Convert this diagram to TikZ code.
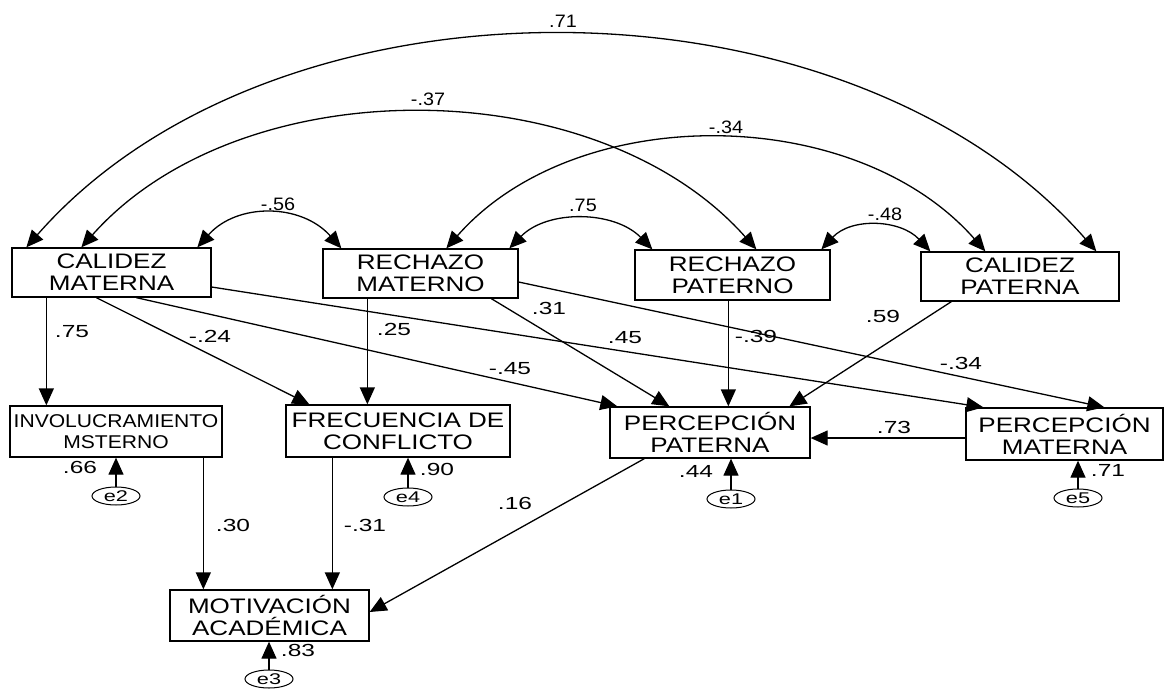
\documentclass[tikz,border=0pt]{standalone}
\usepackage{fontspec}
\setmainfont{Liberation Sans}
\newfontfamily\boxfont{Liberation Sans}[FakeStretch=1.24]
\newfontfamily\invfont{Liberation Sans}[FakeStretch=1.14]
\newfontfamily\lblfont{Liberation Sans}[FakeStretch=1.4]
\newfontfamily\topfont{Liberation Sans}[FakeStretch=1.1]
\usetikzlibrary{arrows.meta,calc,shapes.geometric}
\begin{document}
\begin{tikzpicture}[x=1pt,y=-1pt,
  box/.style={draw, line width=1.3pt, inner sep=0pt, align=center,
    font=\boxfont\fontsize{21}{22}\selectfont},
  invbox/.style={box, font=\invfont\fontsize{18.5}{20.5}\selectfont},
  lbl/.style={inner sep=0pt, font=\lblfont\fontsize{17.5}{18}\selectfont},
  toplbl/.style={inner sep=0pt, font=\topfont\fontsize{18}{18}\selectfont},
  err/.style={draw, ellipse, line width=1pt, minimum width=48pt, minimum height=18pt,
    inner sep=0pt, font=\lblfont\fontsize{15.5}{15}\selectfont},
  arr/.style={line width=1.3pt, -{Triangle[length=17pt,width=15pt]}},
  biarr/.style={line width=1.3pt, {Triangle[length=17pt,width=15pt]}-{Triangle[length=17pt,width=15pt]}}
]
\useasboundingbox (0,0) rectangle (1164,688);
\fill[white] (0,0) rectangle (1164,688);

% boxes
\node[box, minimum width=199pt, minimum height=49pt] (cm) at (111.5,272.5) {CALIDEZ\\MATERNA};
\node[box, minimum width=195pt, minimum height=49pt] (rm) at (420.5,273.5) {RECHAZO\\MATERNO};
\node[box, minimum width=195pt, minimum height=50pt] (rp) at (732.5,275) {RECHAZO\\PATERNO};
\node[box, minimum width=198pt, minimum height=49pt] (cp) at (1020,276.5) {CALIDEZ\\PATERNA};
\node[invbox, minimum width=212pt, minimum height=51pt] (inv) at (116,431.5) {INVOLUCRAMIENTO\\MSTERNO};
\node[box, minimum width=224pt, minimum height=52pt] (frec) at (398,431) {FRECUENCIA DE\\CONFLICTO};
\node[box, minimum width=200pt, minimum height=51pt] (pp) at (710,432.5) {PERCEPCIÓN\\PATERNA};
\node[box, minimum width=197pt, minimum height=52pt] (pm) at (1064.5,434) {PERCEPCIÓN\\MATERNA};
\node[box, minimum width=199pt, minimum height=51pt] (mot) at (269.5,615.5) {MOTIVACIÓN\\ACADÉMICA};

% error terms
\node[err] (e2) at (116,496) {e2};
\node[err] (e4) at (408,497) {e4};
\node[err] (e1) at (731,499) {e1};
\node[err] (e5) at (1078,498) {e5};
\node[err] (e3) at (269,679) {e3};

% arc end points
\coordinate (a71s) at ([xshift=15pt]cm.north west);
\coordinate (a71e) at ([xshift=176pt]cp.north west);
\coordinate (a37s) at ([xshift=70pt]cm.north west);
\coordinate (a37e) at ([xshift=122pt]rp.north west);
\coordinate (a34s) at ([xshift=124pt]rm.north west);
\coordinate (a34e) at ([xshift=65pt]cp.north west);
\coordinate (a56s) at ([xshift=186pt]cm.north west);
\coordinate (a56e) at ([xshift=19pt]rm.north west);
\coordinate (a75s) at ([xshift=187pt]rm.north west);
\coordinate (a75e) at ([xshift=18pt]rp.north west);
\coordinate (a48s) at ([xshift=187pt]rp.north west);
\coordinate (a48e) at ([xshift=10pt]cp.north west);

% covariance arcs
\draw[biarr] (a71s) .. controls ($(a71s)+(250,-285)$) and ($(a71e)+(-250,-285)$) .. (a71e);
\draw[biarr] (a37s) .. controls ($(a37s)+(160,-180)$) and ($(a37e)+(-160,-180)$) .. (a37e);
\draw[biarr] (a34s) .. controls ($(a34s)+(130,-148)$) and ($(a34e)+(-130,-148)$) .. (a34e);
\draw[biarr] (a56s) .. controls ($(a56s)+(40,-45)$) and ($(a56e)+(-40,-45)$) .. (a56e);
\draw[biarr] (a75s) .. controls ($(a75s)+(38,-39)$) and ($(a75e)+(-38,-39)$) .. (a75e);
\draw[biarr] (a48s) .. controls ($(a48s)+(30,-32)$) and ($(a48e)+(-30,-32)$) .. (a48e);

% paths
\draw[arr] ([xshift=35pt]cm.south west) -- ([xshift=37pt]inv.north west);
\draw[arr] ([xshift=85pt]cm.south west) -- ([xshift=24pt]frec.north west);
\draw[arr] ([xshift=125pt]cm.south west) -- ([xshift=8pt]pp.north west);
\draw[arr] ([yshift=-14.5pt]cm.east) -- ([xshift=18pt]pm.north west);
\draw[arr] ([xshift=45pt]rm.south west) -- ([xshift=82pt]frec.north west);
\draw[arr] ([xshift=169pt]rm.south west) -- ([xshift=60pt]pp.north west);
\draw[arr] ([yshift=-8.5pt]rm.east) -- ([xshift=139pt]pm.north west);
\draw[arr] ([xshift=94pt]rp.south west) -- ([xshift=119pt]pp.north west);
\draw[arr] ([xshift=31pt]cp.south west) -- ([xshift=180pt]pp.north west);
\draw[arr] ([yshift=-4pt]pm.west) -- ([yshift=-5.5pt]pp.east);
\draw[arr] ([xshift=194pt]inv.south west) -- ([xshift=34pt]mot.north west);
\draw[arr] ([xshift=47pt]frec.south west) -- ([xshift=163pt]mot.north west);
\draw[arr] ([xshift=35pt]pp.south west) -- ([yshift=3.5pt]mot.east);
\draw[arr] (e2.north) -- (inv.south -| e2.north);
\draw[arr] (e4.north) -- (frec.south -| e4.north);
\draw[arr] (e1.north) -- (pp.south -| e1.north);
\draw[arr] (e5.north) -- (pm.south -| e5.north);
\draw[arr] (e3.north) -- (mot.south -| e3.north);

% top labels
\node[toplbl] (t71) at (563,21) {.71};
\node[toplbl] (t37) at (428,99) {-.37};
\node[toplbl] (t34) at (726,127) {-.34};
\node[toplbl] (t56) at (278,204) {-.56};
\node[toplbl] (t75) at (583,205) {.75};
\node[toplbl] (t48) at (885,214) {-.48};

% path labels
\node[lbl] (l75) at (72,332) {.75};
\node[lbl] (l24) at (210,336) {-.24};
\node[lbl] (l25) at (394,329) {.25};
\node[lbl] (l31) at (549,308) {.31};
\node[lbl] (l45n) at (510,369) {-.45};
\node[lbl] (l45) at (625,338) {.45};
\node[lbl] (l39) at (756,336) {-.39};
\node[lbl] (l59) at (883,316) {.59};
\node[lbl] (l34) at (961,363) {-.34};
\node[lbl] (l73) at (894,427) {.73};
\node[lbl] (l66) at (80,467) {.66};
\node[lbl] (l90) at (437,469) {.90};
\node[lbl] (l44) at (696,471) {.44};
\node[lbl] (l71) at (1108,470) {.71};
\node[lbl] (l30) at (233,525) {.30};
\node[lbl] (l31n) at (365,525) {-.31};
\node[lbl] (l16) at (515,503) {.16};
\node[lbl] (l83) at (298,650) {.83};
\end{tikzpicture}
\end{document}
